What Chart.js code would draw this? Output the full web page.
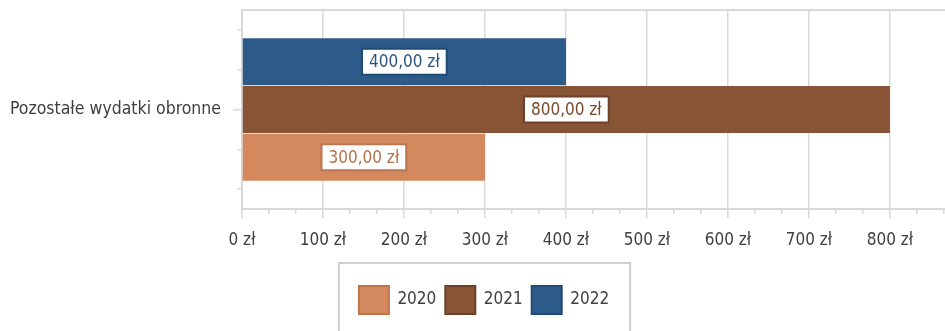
<!DOCTYPE html>
<html>
<head>
<meta charset="utf-8">
<script src="https://cdn.jsdelivr.net/npm/chart.js@4/dist/chart.umd.min.js"></script>
<style>
    html, body { margin: 0; padding: 0; background: #fff; overflow: hidden; }
    .wrap { position: relative; width: 945px; height: 350px; }
</style>
</head>
<body>
<div class="wrap"><canvas id="wydatkiChart"></canvas></div>
<script>
// Data
const categories = ['Pozostałe wydatki obronne'];
const years = ['2022', '2021', '2020'];        // top to bottom in the bars
const values2022 = [400];
const values2021 = [800];
const values2020 = [300];
const xTickValues = [0, 100, 200, 300, 400, 500, 600, 700, 800];
const xMax = 868;

const FONT = "'DejaVu Sans Condensed', 'DejaVu Sans', sans-serif";
const TEXT = '#404040';
const GRID = '#d9d9d9';

Chart.defaults.font.family = FONT;
Chart.defaults.font.size = 17;
Chart.defaults.color = TEXT;

function zl(v) {
    return v.toFixed(2).replace('.', ',') + ' zł';
}

function noPad(scale) {
    scale.paddingTop = 0;
    scale.paddingBottom = 0;
    scale.paddingLeft = 0;
    scale.paddingRight = 0;
}

// white boxes with the value in the middle of each bar
const barLabels = {
    id: 'barLabels',
    afterDatasetsDraw(chart) {
        const c = chart.ctx;
        c.save();
        c.font = '17px ' + FONT;
        c.textAlign = 'center';
        c.textBaseline = 'middle';
        chart.data.datasets.forEach((ds, i) => {
            const meta = chart.getDatasetMeta(i);
            if (meta.hidden) return;
            meta.data.forEach((bar, j) => {
                const p = bar.getProps(['x', 'y', 'base'], true);
                const txt = zl(ds.data[j]);
                const w = c.measureText(txt).width + 14;
                const h = 26;
                const cx = (p.x + p.base) / 2;
                c.fillStyle = '#fff';
                c.fillRect(cx - w / 2, p.y - h / 2, w, h);
                c.lineWidth = 2;
                c.strokeStyle = ds.labelBorder;
                c.strokeRect(cx - w / 2, p.y - h / 2, w, h);
                c.fillStyle = ds.labelColor;
                c.fillText(txt, cx, p.y + 1);
            });
        });
        c.restore();
    }
};

// legend sits a little right of the page centre, in a grey frame
const legendFrame = {
    id: 'legendFrame',
    afterLayout(chart) {
        chart.legend.left += 6;
        chart.legend.right += 6;
    },
    afterDraw(chart) {
        const boxes = chart.legend.legendHitBoxes;
        if (!boxes || !boxes.length) return;
        const first = boxes[0];
        const last = boxes[boxes.length - 1];
        const left = first.left - 20;
        const right = last.left + last.width + 21;
        const top = first.top - 23;
        const c = chart.ctx;
        c.save();
        c.strokeStyle = '#d0d0d0';
        c.lineWidth = 2;
        c.strokeRect(left, top, right - left, 200);
        c.restore();
    }
};

new Chart(document.getElementById('wydatkiChart'), {
    type: 'bar',
    data: {
        labels: categories,
        datasets: [
            {
                label: years[0],
                data: values2022,
                backgroundColor: '#2c5b89',
                borderColor: '#1f4a75',
                labelColor: '#2b5580',
                labelBorder: '#1f4a75',
                xAxisID: 'x',
                yAxisID: 'y'
            },
            {
                label: years[1],
                data: values2021,
                backgroundColor: '#875436',
                borderColor: '#6d4027',
                labelColor: '#7a4a2e',
                labelBorder: '#6d4027',
                xAxisID: 'x',
                yAxisID: 'y'
            },
            {
                label: years[2],
                data: values2020,
                backgroundColor: '#d4885e',
                borderColor: '#c0734a',
                labelColor: '#b8714a',
                labelBorder: '#bb7550',
                xAxisID: 'x',
                yAxisID: 'y'
            }
        ]
    },
    options: {
        indexAxis: 'y',
        responsive: true,
        maintainAspectRatio: false,
        animation: false,
        layout: {
            padding: { left: 11, top: 10, right: 0, bottom: 26 }
        },
        datasets: {
            bar: {
                categoryPercentage: 0.72,
                barPercentage: 0.98,
                borderWidth: 0
            }
        },
        plugins: {
            tooltip: { enabled: false },
            legend: {
                position: 'bottom',
                reverse: true,
                labels: {
                    boxWidth: 30,
                    boxHeight: 28,
                    padding: 9,
                    color: TEXT,
                    font: { size: 17, family: FONT },
                    generateLabels(chart) {
                        const items = Chart.defaults.plugins.legend.labels.generateLabels(chart);
                        return items.map(it => Object.assign(it, { lineWidth: 2 }));
                    }
                }
            }
        },
        scales: {
            x: {
                type: 'linear',
                position: 'bottom',
                min: 0,
                max: xMax,
                weight: 1,
                afterBuildTicks(scale) {
                    scale.ticks = xTickValues.map(v => ({ value: v }));
                },
                afterFit(scale) {
                    scale.height = 68;
                    noPad(scale);
                },
                ticks: {
                    padding: 12,
                    color: TEXT,
                    maxRotation: 0,
                    callback: v => v + ' zł'
                },
                grid: {
                    color: GRID,
                    lineWidth: 1.5,
                    tickLength: 9
                },
                border: { display: true, color: GRID, width: 2 }
            },
            // minor tick marks under the axis, three per hundred
            xMinor: {
                type: 'linear',
                position: 'bottom',
                min: 0,
                max: xMax,
                weight: 0,
                afterBuildTicks(scale) {
                    const t = [];
                    for (let k = 1; k * 100 / 3 < xMax; k++) {
                        if (k % 3) t.push({ value: k * 100 / 3 });
                    }
                    scale.ticks = t;
                },
                afterFit(scale) {
                    scale.height = 0;
                    noPad(scale);
                },
                ticks: { display: false },
                grid: {
                    drawOnChartArea: false,
                    color: GRID,
                    lineWidth: 1.5,
                    tickLength: 5
                },
                border: { display: false }
            },
            // top frame line of the plot
            xTop: {
                type: 'linear',
                position: 'top',
                min: 0,
                max: xMax,
                afterFit(scale) {
                    scale.height = 0;
                    noPad(scale);
                },
                ticks: { display: false },
                grid: { display: false },
                border: { display: true, color: GRID, width: 2 }
            },
            y: {
                type: 'category',
                position: 'left',
                weight: 1,
                afterFit(scale) {
                    scale.width = 231;
                    noPad(scale);
                },
                ticks: { padding: 12, color: TEXT, font: { size: 17.5 } },
                grid: {
                    offset: false,
                    drawOnChartArea: false,
                    color: GRID,
                    lineWidth: 1.5,
                    tickLength: 9
                },
                border: { display: true, color: GRID, width: 2 }
            },
            // minor marks on the left
            yMinor: {
                type: 'linear',
                position: 'left',
                min: 0,
                max: 1,
                offset: false,
                weight: 0,
                afterBuildTicks(scale) {
                    scale.ticks = [0.1, 0.3, 0.7, 0.9].map(v => ({ value: v }));
                },
                afterFit(scale) {
                    scale.width = 0;
                    noPad(scale);
                },
                ticks: { display: false },
                grid: {
                    offset: false,
                    drawOnChartArea: false,
                    color: GRID,
                    lineWidth: 1.5,
                    tickLength: 5
                },
                border: { display: false }
            }
        }
    },
    plugins: [barLabels, legendFrame]
});
</script>
</body>
</html>
